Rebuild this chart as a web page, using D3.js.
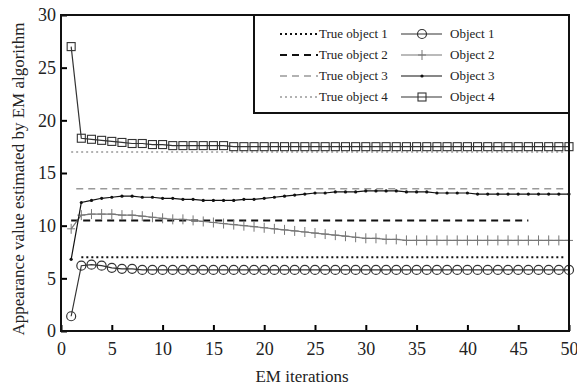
<!DOCTYPE html>
<html>
<head>
<meta charset="utf-8">
<script src="https://cdn.jsdelivr.net/npm/d3@7"></script>
<style>
  body { margin: 0; background: #fff; }
  svg, svg text { font-family: "Liberation Serif", "Times New Roman", serif; }
</style>
</head>
<body>
<svg id="chart" width="577" height="388"></svg>
<script>
const iterations = [1,2,3,4,5,6,7,8,9,10,11,12,13,14,15,16,17,18,19,20,21,22,23,24,25,
  26,27,28,29,30,31,32,33,34,35,36,37,38,39,40,41,42,43,44,45,46,47,48,49,50];

const object1 = [1.4,6.2,6.3,6.2,6.0,5.9,5.9,5.8,5.8,5.8,5.8,5.8,5.8,5.8,5.8,5.8,5.8,5.8,5.8,5.8,
  5.8,5.8,5.8,5.8,5.8,5.8,5.8,5.8,5.8,5.8,5.8,5.8,5.8,5.8,5.8,5.8,5.8,5.8,5.8,5.8,
  5.8,5.8,5.8,5.8,5.8,5.8,5.8,5.8,5.8,5.8];
const object2 = [9.7,11.0,11.1,11.1,11.1,11.0,11.0,10.9,10.8,10.7,10.6,10.6,10.5,10.4,10.3,10.2,10.1,10.0,9.9,9.8,
  9.7,9.6,9.5,9.4,9.3,9.2,9.1,9.0,8.9,8.8,8.8,8.7,8.7,8.6,8.6,8.6,8.6,8.6,8.6,8.6,
  8.6,8.6,8.6,8.6,8.6,8.6,8.6,8.6,8.6,8.6];
const object3 = [6.8,12.2,12.4,12.6,12.7,12.8,12.8,12.7,12.7,12.6,12.6,12.5,12.5,12.4,12.4,12.4,12.4,12.5,12.5,12.6,
  12.7,12.8,12.9,13.0,13.1,13.1,13.2,13.2,13.2,13.3,13.3,13.3,13.3,13.2,13.2,13.2,13.1,13.1,13.1,13.1,
  13.0,13.0,13.0,13.0,13.0,13.0,13.0,13.0,13.0,13.0];
const object4 = [27.0,18.3,18.2,18.1,18.0,17.9,17.8,17.8,17.7,17.7,17.6,17.6,17.6,17.6,17.6,17.6,17.5,17.5,17.5,17.5,
  17.5,17.5,17.5,17.5,17.5,17.5,17.5,17.5,17.5,17.5,17.5,17.5,17.5,17.5,17.5,17.5,17.5,17.5,17.5,17.5,
  17.5,17.5,17.5,17.5,17.5,17.5,17.5,17.5,17.5,17.5];

// true values and the iteration span each dashed line covers
const trueValues = [7.0, 10.5, 13.5, 17.0];
const trueStart = [2, 1, 1.5, 1];
const trueEnd = [49.6, 46, 49.6, 49.6];

const xTicks = [0,5,10,15,20,25,30,35,40,45,50];
const yTicks = [0,5,10,15,20,25,30];

const trueLabels = ["True object 1","True object 2","True object 3","True object 4"];
const objLabels = ["Object 1","Object 2","Object 3","Object 4"];

const svg = d3.select("#chart");
const m = { left: 61, right: 569, top: 15, bottom: 331 };
const serif = "'Liberation Serif', 'Times New Roman', serif";

const x = d3.scaleLinear().domain([0, 50]).range([m.left, m.right]);
const y = d3.scaleLinear().domain([0, 30]).range([m.bottom, m.top]);

const trueStyles = [
  { stroke: "#111", dash: "2,3", width: 2 },
  { stroke: "#111", dash: "7,5", width: 2 },
  { stroke: "#999", dash: "7,5", width: 1.6 },
  { stroke: "#999", dash: "2,3", width: 1.6 }
];
const objStyles = [
  { stroke: "#333", marker: "circle" },
  { stroke: "#777", marker: "plus" },
  { stroke: "#111", marker: "dot" },
  { stroke: "#333", marker: "square" }
];

trueValues.forEach((v, i) => {
  svg.append("line")
    .attr("x1", x(trueStart[i])).attr("x2", x(trueEnd[i]))
    .attr("y1", y(v)).attr("y2", y(v))
    .attr("stroke", trueStyles[i].stroke)
    .attr("stroke-width", trueStyles[i].width)
    .attr("stroke-dasharray", trueStyles[i].dash);
});

function drawMarker(g, type, cx, cy, color) {
  if (type === "circle") {
    g.append("circle").attr("cx", cx).attr("cy", cy).attr("r", 4.5)
      .attr("fill", "none").attr("stroke", color).attr("stroke-width", 1.2);
  } else if (type === "square") {
    g.append("rect").attr("x", cx - 4).attr("y", cy - 4).attr("width", 8).attr("height", 8)
      .attr("fill", "none").attr("stroke", color).attr("stroke-width", 1.1);
  } else if (type === "plus") {
    g.append("line").attr("x1", cx).attr("x2", cx).attr("y1", cy - 5).attr("y2", cy + 5)
      .attr("stroke", color).attr("stroke-width", 1);
    g.append("line").attr("x1", cx - 4).attr("x2", cx + 4).attr("y1", cy).attr("y2", cy)
      .attr("stroke", color).attr("stroke-width", 1);
  } else if (type === "dot") {
    g.append("circle").attr("cx", cx).attr("cy", cy).attr("r", 1.6).attr("fill", color);
  }
}

const line = d3.line().x(d => x(d[0])).y(d => y(d[1]));
[object1, object2, object3, object4].forEach((series, i) => {
  const pts = iterations.map((it, j) => [it, series[j]]);
  const g = svg.append("g");
  g.append("path").attr("d", line(pts))
    .attr("fill", "none").attr("stroke", objStyles[i].stroke).attr("stroke-width", 1.2);
  pts.forEach(p => drawMarker(g, objStyles[i].marker, x(p[0]), y(p[1]), objStyles[i].stroke));
});

// axes, ticks point inward
svg.append("g").attr("transform", `translate(0,${m.bottom})`)
  .call(d3.axisBottom(x).tickValues(xTicks).tickSize(-6).tickPadding(11).tickSizeOuter(0))
  .attr("font-family", serif)
  .call(g => g.select(".domain").remove())
  .call(g => g.selectAll("text").attr("font-size", 18).attr("font-family", serif).attr("fill", "#222"))
  .call(g => g.selectAll("line").attr("stroke-width", 2));
svg.append("g").attr("transform", `translate(${m.left},0)`)
  .call(d3.axisLeft(y).tickValues(yTicks).tickSize(-6).tickPadding(5).tickSizeOuter(0))
  .attr("font-family", serif)
  .call(g => g.select(".domain").remove())
  .call(g => g.selectAll("text").attr("font-size", 18).attr("font-family", serif).attr("fill", "#222"))
  .call(g => g.selectAll("line").attr("stroke-width", 2));

svg.append("rect")
  .attr("x", m.left).attr("y", m.top)
  .attr("width", m.right - m.left).attr("height", m.bottom - m.top)
  .attr("fill", "none").attr("stroke", "#111").attr("stroke-width", 2);

svg.append("text").attr("x", 302).attr("y", 382)
  .attr("text-anchor", "middle").attr("font-size", 17).attr("fill", "#222")
  .text("EM iterations");
svg.append("text")
  .attr("transform", `translate(24,${(m.top + m.bottom) / 2 + 6}) rotate(-90)`)
  .attr("text-anchor", "middle").attr("font-size", 17).attr("fill", "#222")
  .text("Appearance value estimated by EM algorithm");

// legend
const leg = svg.append("g");
leg.append("rect").attr("x", 254).attr("y", m.top).attr("width", m.right - 254).attr("height", 98)
  .attr("fill", "#fff").attr("stroke", "#111").attr("stroke-width", 2);
const rowY = [34, 55, 76, 97];
trueLabels.forEach((lab, i) => {
  leg.append("line").attr("x1", 280).attr("x2", 318).attr("y1", rowY[i]).attr("y2", rowY[i])
    .attr("stroke", trueStyles[i].stroke).attr("stroke-width", trueStyles[i].width)
    .attr("stroke-dasharray", trueStyles[i].dash);
  leg.append("text").attr("x", 319).attr("y", rowY[i] + 4).attr("font-size", 13)
    .attr("fill", "#222").text(lab);
  leg.append("line").attr("x1", 401).attr("x2", 442).attr("y1", rowY[i]).attr("y2", rowY[i])
    .attr("stroke", objStyles[i].stroke).attr("stroke-width", 1.2);
  drawMarker(leg, objStyles[i].marker, 422, rowY[i], objStyles[i].stroke);
  leg.append("text").attr("x", 450).attr("y", rowY[i] + 4).attr("font-size", 13)
    .attr("fill", "#222").text(objLabels[i]);
});
</script>
</body>
</html>
